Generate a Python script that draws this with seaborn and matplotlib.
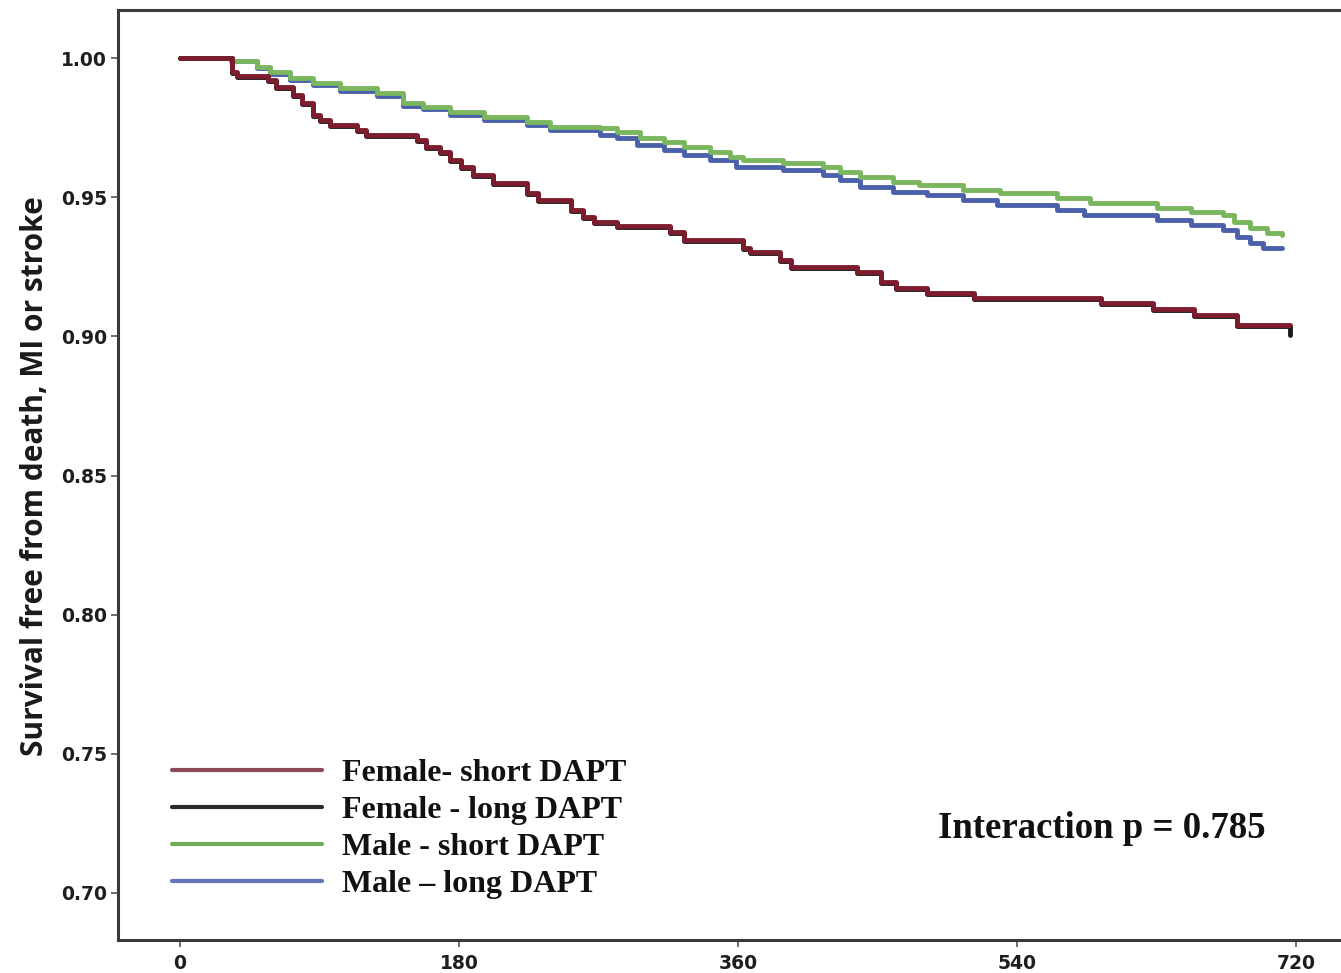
import numpy as np
import pandas as pd
import matplotlib
matplotlib.use("Agg")
import matplotlib.pyplot as plt
from matplotlib.lines import Line2D
import seaborn as sns

# ---------------- data ----------------
series_names = ["Female- short DAPT", "Female - long DAPT", "Male - short DAPT", "Male \u2013 long DAPT"]

days_female_short = [0, 33.5, 36.6, 57, 62, 73, 79, 86, 90, 97, 114, 120, 153, 159, 168, 174, 181, 189, 202, 224,
                     231, 252, 260, 267, 282, 316, 325, 363, 368, 387, 394, 437, 452, 462, 482, 512, 594, 628, 654,
                     682, 716]
surv_female_short = [1.000, 0.9951, 0.9935, 0.9921, 0.9897, 0.9867, 0.9838, 0.9795, 0.9777, 0.9759, 0.9741, 0.9723,
                     0.9705, 0.9681, 0.9663, 0.9633, 0.9609, 0.9580, 0.9551, 0.9515, 0.9490, 0.9454, 0.9430, 0.9412,
                     0.9396, 0.9376, 0.9346, 0.9317, 0.9304, 0.9274, 0.9250, 0.9232, 0.9196, 0.9174, 0.9156, 0.9137,
                     0.9119, 0.9097, 0.9077, 0.9041, 0.9041]

days_female_long = [0, 33.5, 36.6, 57, 62, 73, 79, 86, 90, 97, 114, 120, 153, 159, 168, 174, 181, 189, 202, 224,
                    231, 252, 260, 267, 282, 316, 325, 363, 368, 387, 394, 437, 452, 462, 482, 512, 594, 628, 654,
                    682, 716]
surv_female_long = [1.000, 0.9947, 0.9931, 0.9917, 0.9893, 0.9863, 0.9834, 0.9791, 0.9773, 0.9755, 0.9737, 0.9719,
                    0.9701, 0.9677, 0.9659, 0.9629, 0.9605, 0.9576, 0.9547, 0.9511, 0.9486, 0.9450, 0.9426, 0.9408,
                    0.9392, 0.9372, 0.9342, 0.9313, 0.9300, 0.9270, 0.9246, 0.9228, 0.9192, 0.9170, 0.9152, 0.9133,
                    0.9115, 0.9093, 0.9073, 0.9037, 0.9003]

days_male_short = [0, 33, 49.5, 58, 71, 86, 103, 127, 144, 157, 174, 196, 224, 239, 271, 282, 297, 312, 325, 342,
                   355, 363, 389, 415, 426, 439, 460, 477, 505, 529, 566, 587, 630, 652, 673, 680, 690, 701, 711]
surv_male_short = [1.000, 0.9990, 0.9969, 0.9950, 0.9927, 0.9909, 0.9891, 0.9873, 0.9837, 0.9825, 0.9807, 0.9789,
                   0.9771, 0.9753, 0.9747, 0.9735, 0.9711, 0.9699, 0.9681, 0.9663, 0.9645, 0.9633, 0.9622, 0.9609,
                   0.9591, 0.9573, 0.9555, 0.9544, 0.9526, 0.9514, 0.9496, 0.9478, 0.9460, 0.9448, 0.9436, 0.9412,
                   0.9388, 0.9370, 0.9364]

days_male_long = [0, 33, 49.5, 58, 71, 86, 103, 127, 144, 157, 174, 196, 224, 239, 271, 282, 295, 312, 325, 342,
                  359, 389, 415, 426, 439, 460, 482, 505, 527, 566, 583, 630, 652, 673, 682, 690, 699, 711]
surv_male_long = [1.000, 0.9988, 0.9964, 0.9943, 0.9920, 0.9902, 0.9883, 0.9864, 0.9828, 0.9815, 0.9796, 0.9777,
                  0.9758, 0.9740, 0.9723, 0.9711, 0.9687, 0.9669, 0.9651, 0.9633, 0.9609, 0.9598, 0.9580, 0.9562,
                  0.9538, 0.9520, 0.9508, 0.9490, 0.9472, 0.9454, 0.9436, 0.9418, 0.9400, 0.9382, 0.9358, 0.9334,
                  0.9316, 0.9316]

x_ticks = [0, 180, 360, 540, 720]
y_ticks = [0.70, 0.75, 0.80, 0.85, 0.90, 0.95, 1.00]
y_label = "Survival free from death, MI or stroke"
annotation = "Interaction p = 0.785"

# ---------------- styling ----------------
sns.set_theme(style="white")
plt.rcParams["font.family"] = ["DejaVu Sans"]

curve_colors = {
    "Female - long DAPT": "#1a1a1a",
    "Female- short DAPT": "#7b1d2d",
    "Male \u2013 long DAPT": "#4b60aa",
    "Male - short DAPT": "#7ab65e",
}
legend_colors = ["#8a4a58", "#2a2a2a", "#6fae57", "#6474b4"]

frames = []
for name, d, s in [
    ("Male \u2013 long DAPT", days_male_long, surv_male_long),
    ("Male - short DAPT", days_male_short, surv_male_short),
    ("Female - long DAPT", days_female_long, surv_female_long),
    ("Female- short DAPT", days_female_short, surv_female_short),
]:
    frames.append(pd.DataFrame({"day": d, "surv": s, "group": name}))
df = pd.concat(frames, ignore_index=True)

W, H = 1341, 973
fig = plt.figure(figsize=(W / 100, H / 100), dpi=100)
ax_left, ax_right, ax_top, ax_bottom = 118, 1352, 10, 940
ax = fig.add_axes([ax_left / W, 1 - ax_bottom / H, (ax_right - ax_left) / W, (ax_bottom - ax_top) / H])

for name in ["Male \u2013 long DAPT", "Male - short DAPT", "Female - long DAPT", "Female- short DAPT"]:
    sub = df[df["group"] == name]
    sns.lineplot(data=sub, x="day", y="surv", ax=ax, color=curve_colors[name], linewidth=3.5,
                 drawstyle="steps-post", estimator=None, sort=False, legend=False)

px_per_day = 1.55
x0 = -(180 - ax_left) / px_per_day
x1 = x0 + (ax_right - ax_left) / px_per_day
px_per_unit = (893 - 58) / 0.30
y1 = 1.0 + (58 - ax_top) / px_per_unit
y0 = 0.70 - (ax_bottom - 893) / px_per_unit
ax.set_xlim(x0, x1)
ax.set_ylim(y0, y1)

ax.set_xticks(x_ticks)
ax.set_xticklabels([str(t) for t in x_ticks])
ax.set_yticks(y_ticks)
ax.set_yticklabels([f"{t:.2f}" for t in y_ticks])
ax.tick_params(axis="both", which="major", direction="out", length=5, width=1.2, color="#555555",
               labelsize=13.5, labelcolor="#1e1e1e", pad=3, left=True, bottom=True)
for lab in ax.get_xticklabels() + ax.get_yticklabels():
    lab.set_fontweight("bold")
ax.tick_params(axis="x", pad=5)

for side in ["top", "left", "bottom"]:
    ax.spines[side].set_visible(True)
    ax.spines[side].set_color("#3a3a3a")
    ax.spines[side].set_linewidth(2.2)
ax.spines["right"].set_visible(False)

ax.set_xlabel("")
ax.set_ylabel("")
fig.text(35 / W, 1 - 476 / H, y_label, rotation=90, ha="center", va="center",
         fontsize=21.5, fontweight="bold", family=["Open Sans", "DejaVu Sans"], color="#1a1a1a")

handles = [Line2D([0], [0], color=c, linewidth=3.0) for c in legend_colors]
leg = ax.legend(handles, series_names, loc="upper left",
                bbox_to_anchor=(172 / W, 1 - 759 / H), bbox_transform=fig.transFigure,
                frameon=False, borderpad=0, borderaxespad=0, handlelength=4.7, handletextpad=0.62,
                labelspacing=0.24, prop={"family": "Liberation Serif", "weight": "bold", "size": 23})
for t in leg.get_texts():
    t.set_color("#111111")

fig.text(1102 / W, 1 - 828 / H, annotation, ha="center", va="center", fontsize=26.5, fontweight="bold",
         family="Liberation Serif", color="#111111")

fig.savefig("out.png", dpi=100)
